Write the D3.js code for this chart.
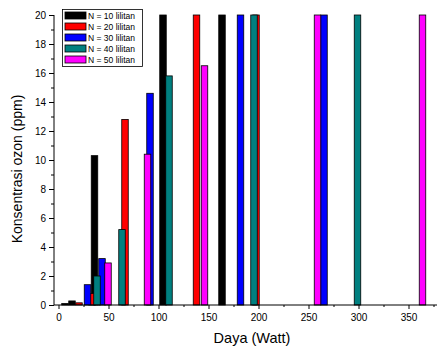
<!DOCTYPE html>
<html>
<head>
<meta charset="utf-8">
<script src="https://cdn.jsdelivr.net/npm/d3@7"></script>
<style>
  body { margin: 0; background: #fff; }
  svg { display: block; font-family: "Liberation Sans", Arial, sans-serif; }
</style>
</head>
<body>
<svg id="drawing_region"></svg>
<script>
const width = 437;
const height = 348;

// series names and colours
const seriesNames = ["N = 10 lilitan", "N = 20 lilitan", "N = 30 lilitan", "N = 40 lilitan", "N = 50 lilitan"];
const seriesColors = ["#000000", "#ff0000", "#0000ff", "#008080", "#ff00ff"];

// daya (Watt) and konsentrasi ozon (ppm) per series; bars above 20 are cut at the axis top
const n10Daya = [6.5, 13.5, 36, 104.5, 163.5];
const n10Ozon = [0.1, 0.28, 10.3, 20, 20];
const n20Daya = [20.5, 33.5, 66.5, 138, 197.5];
const n20Ozon = [0.15, 0.8, 12.8, 20, 20];
const n30Daya = [29, 43.5, 91.5, 182, 265.5];
const n30Ozon = [1.4, 3.2, 14.6, 20, 20];
const n40Daya = [38.5, 63.5, 110.5, 195.5, 299];
const n40Ozon = [2.0, 5.2, 15.8, 20, 20];
const n50Daya = [49.5, 89, 146, 259, 364];
const n50Ozon = [2.9, 10.4, 16.5, 20, 20];

const xTicks = [0, 50, 100, 150, 200, 250, 300, 350];
const xMinor = [25, 75, 125, 175, 225, 275, 325, 375];
const yTicks = [0, 2, 4, 6, 8, 10, 12, 14, 16, 18, 20];
const yMinor = [1, 3, 5, 7, 9, 11, 13, 15, 17, 19];

const allDaya = [n10Daya, n20Daya, n30Daya, n40Daya, n50Daya];
const allOzon = [n10Ozon, n20Ozon, n30Ozon, n40Ozon, n50Ozon];

const data = [];
allDaya.forEach((xs, s) => {
    xs.forEach((x, i) => data.push({ s: s, x: x, y: allOzon[s][i] }));
});

const barW = 6.5;

const svg = d3.select('#drawing_region')
    .attr('width', width)
    .attr('height', height);

const xscale = d3.scaleLinear()
    .domain([-4.5, 378.5])
    .range([54, 437]);

const yscale = d3.scaleLinear()
    .domain([0, 20])
    .range([305, 15]);

// bars
svg.append("g")
    .selectAll("rect")
    .data(data)
    .join("rect")
    .attr("x", d => xscale(d.x - barW / 2))
    .attr("y", d => yscale(d.y))
    .attr("width", d => xscale(d.x + barW / 2) - xscale(d.x - barW / 2))
    .attr("height", d => yscale(0) - yscale(d.y))
    .attr("fill", d => seriesColors[d.s])
    .attr("stroke", "#000")
    .attr("stroke-width", 0.8);

// axes
const yAxis = svg.append("g")
    .attr("transform", "translate(54,0)")
    .call(d3.axisLeft(yscale).tickValues(yTicks).tickSize(5).tickPadding(3));
svg.append("g")
    .attr("transform", "translate(54,0)")
    .call(d3.axisLeft(yscale).tickValues(yMinor).tickSize(3).tickFormat(""))
    .select(".domain").remove();

const xAxis = svg.append("g")
    .attr("transform", "translate(0,305)")
    .call(d3.axisBottom(xscale).tickValues(xTicks).tickSize(4).tickPadding(5));
svg.append("g")
    .attr("transform", "translate(0,305)")
    .call(d3.axisBottom(xscale).tickValues(xMinor).tickSize(2).tickFormat(""))
    .select(".domain").remove();

svg.selectAll(".tick text")
    .attr("font-family", "Liberation Sans, Arial, sans-serif")
    .attr("font-size", "10px")
    .attr("fill", "#000");
svg.selectAll(".domain, .tick line").attr("stroke", "#000");
yAxis.select(".domain").attr("d", "M0,305V15");
xAxis.select(".domain").attr("d", "M54,0H437");

// axis titles
svg.append("text")
    .attr("x", 252)
    .attr("y", 343)
    .attr("text-anchor", "middle")
    .attr("font-size", "14.5px")
    .text("Daya (Watt)");

svg.append("text")
    .attr("transform", "translate(22,169) rotate(-90)")
    .attr("text-anchor", "middle")
    .attr("font-size", "14px")
    .text("Konsentrasi ozon (ppm)");

// legend
const legend = svg.append("g");
legend.append("rect")
    .attr("x", 62.5)
    .attr("y", 9.5)
    .attr("width", 80)
    .attr("height", 57)
    .attr("fill", "#fff")
    .attr("stroke", "#000")
    .attr("stroke-width", 0.8);

legend.selectAll("rect.sw")
    .data(seriesNames)
    .join("rect")
    .attr("class", "sw")
    .attr("x", 65)
    .attr("y", (d, i) => 12 + i * 11)
    .attr("width", 21)
    .attr("height", 7)
    .attr("fill", (d, i) => seriesColors[i])
    .attr("stroke", "#000")
    .attr("stroke-width", 0.8);

legend.selectAll("text.lbl")
    .data(seriesNames)
    .join("text")
    .attr("class", "lbl")
    .attr("x", 88)
    .attr("y", (d, i) => 18.5 + i * 11)
    .attr("font-size", "8.5px")
    .text(d => d);
</script>
</body>
</html>
